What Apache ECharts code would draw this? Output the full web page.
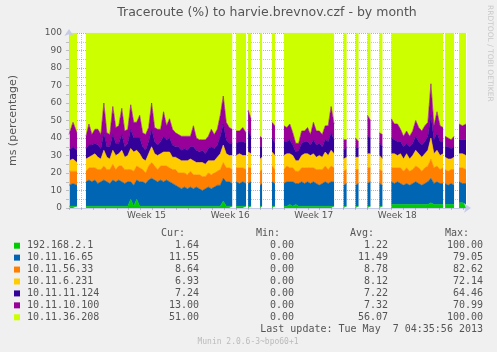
<!DOCTYPE html>
<html>
<head>
<meta charset="utf-8">
<title>Traceroute (%) to harvie.brevnov.czf - by month</title>
<script src="https://cdn.jsdelivr.net/npm/echarts@6/dist/echarts.min.js"></script>
<style>
html, body { margin: 0; padding: 0; background: #f0f0f0; }
#main { width: 497px; height: 352px; }
</style>
</head>
<body>
<div id="main"></div>
<script>
var names = ['192.168.2.1', '10.11.16.65', '10.11.56.33', '10.11.6.231', '10.11.11.124', '10.11.10.100', '10.11.36.208'];
var colors = ['#00CC00', '#0066B3', '#FF8000', '#FFCC00', '#330099', '#990099', '#CCFF00'];
var curVals = ['1.64', '11.55', '8.64', '6.93', '7.24', '13.00', '51.00'];
var minVals = ['0.00', '0.00', '0.00', '0.00', '0.00', '0.00', '0.00'];
var avgVals = ['1.22', '11.49', '8.78', '8.12', '7.22', '7.32', '56.07'];
var maxVals = ['100.00', '79.05', '82.62', '72.14', '64.46', '70.99', '100.00'];
var weekPos = [6.5, 13.5, 20.5, 27.5];     // days from left edge
var weekNames = ['Week 15', 'Week 16', 'Week 17', 'Week 18'];
var lastUpdate = 'Last update: Tue May  7 04:35:56 2013';

// stretches of time (days) where samples exist, gaps between them are empty
var spans = [[0, 0.67], [1.42, 13.67], [14.0, 14.83], [15.0, 15.25], [16.0, 16.17], [17.0, 17.25],
    [18.0, 22.2], [23.0, 23.25], [24.0, 24.25], [25.0, 25.25], [26.0, 26.25], [27.0, 31.33],
    [31.5, 32.25], [32.67, 33.25]];

// percent per host, one list per span
var ip2_1 = [
    [1, 1, 1],
    [1, 1, 1, 1, 1, 1, 1, 1, 1, 1, 1, 1, 1, 1, 1, 5, 1, 5, 1, 1, 1, 1, 1, 1, 1, 1, 1, 1, 1, 1,
        1, 1, 1, 1, 1, 1, 1, 1, 1, 1, 1, 1, 1, 1, 1, 1, 4, 1, 1, 1],
    [1, 1, 1, 1], [1, 1], [1, 1], [1, 1],
    [1, 1, 2, 1, 2, 1, 1, 1, 1, 1, 1, 1, 1, 1, 1, 1, 1, 1],
    [1, 1], [1, 1], [1, 1], [1, 1],
    [2, 2, 2, 2, 2, 2, 2, 2, 2, 2, 2, 2, 2, 3, 2, 2, 2, 2],
    [2, 2, 2, 2], [3, 3, 2]
];
var ip16_65 = [
    [12, 13, 12],
    [14, 15, 14, 15, 13, 14, 15, 14, 13, 15, 14, 15, 14, 13, 14, 10, 12, 11, 14, 14, 13, 15, 16, 15, 14, 15, 14, 15, 14, 13,
        12, 11, 10, 11, 10, 11, 10, 11, 10, 9, 10, 11, 10, 11, 12, 12, 13, 14, 14, 13],
    [14, 13, 14, 13], [13, 14], [12, 13], [14, 13],
    [13, 14, 13, 14, 12, 13, 14, 13, 14, 13, 14, 13, 12, 13, 14, 13, 14, 14],
    [12, 13], [12, 13], [13, 14], [13, 12],
    [13, 12, 13, 12, 11, 12, 11, 12, 13, 12, 11, 12, 13, 14, 12, 13, 12, 12],
    [12, 11, 12, 11], [12, 11, 12]
];
var ip56_33 = [
    [8, 7, 8],
    [6, 7, 8, 7, 8, 7, 8, 7, 8, 9, 7, 8, 9, 8, 7, 7, 8, 8, 8, 7, 6, 8, 9, 8, 7, 8, 9, 8, 8, 8,
        9, 8, 9, 8, 8, 9, 8, 7, 8, 8, 7, 8, 8, 8, 8, 9, 9, 8, 8, 8],
    [8, 9, 8, 8], [9, 8], [8, 8], [9, 8],
    [8, 9, 8, 8, 7, 7, 8, 9, 8, 9, 8, 8, 9, 8, 9, 8, 9, 8],
    [8, 8], [9, 8], [9, 8], [8, 8],
    [8, 9, 8, 9, 8, 9, 8, 8, 9, 9, 8, 9, 9, 11, 9, 9, 8, 9],
    [8, 8, 8, 9], [8, 9, 8]
];
var ip6_231 = [
    [6, 7, 5],
    [7, 6, 7, 8, 7, 6, 9, 7, 6, 8, 8, 7, 9, 7, 8, 12, 11, 9, 8, 6, 7, 7, 9, 7, 8, 7, 8, 8, 9, 7,
        7, 8, 7, 7, 8, 7, 8, 7, 7, 8, 7, 7, 8, 7, 8, 9, 10, 8, 7, 8],
    [7, 8, 7, 8], [9, 8], [7, 7], [8, 8],
    [8, 7, 8, 7, 6, 6, 7, 8, 8, 7, 8, 7, 8, 7, 8, 8, 9, 8],
    [7, 7], [7, 7], [8, 8], [8, 7],
    [8, 8, 7, 8, 7, 8, 7, 8, 9, 8, 8, 8, 9, 12, 8, 9, 8, 8],
    [7, 7, 6, 7], [8, 8, 8]
];
var ip11_124 = [
    [6, 7, 7],
    [6, 7, 6, 6, 7, 6, 10, 6, 7, 9, 7, 6, 9, 6, 7, 11, 8, 7, 9, 7, 6, 7, 10, 7, 6, 7, 9, 7, 8, 7,
        6, 7, 6, 7, 6, 7, 8, 7, 6, 7, 6, 7, 8, 7, 7, 10, 12, 8, 7, 7],
    [7, 7, 8, 7], [12, 10], [7, 6], [8, 7],
    [8, 7, 8, 6, 5, 6, 7, 7, 7, 6, 8, 7, 7, 6, 7, 8, 10, 8],
    [5, 6], [6, 5], [10, 9], [7, 7],
    [9, 8, 8, 7, 7, 6, 7, 7, 8, 7, 7, 7, 8, 13, 8, 10, 8, 7],
    [6, 7, 6, 6], [8, 8, 9]
];
var ip10_100 = [
    [9, 14, 10],
    [7, 12, 6, 8, 9, 8, 17, 8, 7, 16, 9, 10, 15, 9, 8, 14, 9, 9, 13, 8, 9, 8, 15, 8, 9, 7, 14, 8, 11, 9,
        8, 7, 8, 7, 8, 6, 12, 7, 7, 6, 8, 7, 10, 8, 9, 12, 16, 10, 9, 8],
    [7, 6, 8, 6], [12, 10], [6, 5], [9, 10],
    [9, 8, 9, 7, 5, 4, 7, 6, 8, 6, 10, 8, 7, 7, 8, 9, 15, 9],
    [6, 4], [5, 4], [12, 10], [6, 7],
    [11, 9, 10, 7, 6, 7, 6, 7, 9, 8, 8, 9, 8, 18, 8, 12, 9, 8],
    [6, 5, 5, 6], [9, 8, 9]
];
var ip36_208 = [
    [58, 51, 57],
    [59, 52, 58, 55, 55, 58, 40, 57, 58, 42, 54, 53, 43, 56, 55, 41, 51, 51, 47, 57, 58, 54, 40, 54, 55, 55, 45, 53, 49, 55,
        57, 58, 59, 59, 59, 59, 53, 60, 61, 61, 61, 59, 55, 58, 55, 47, 36, 51, 54, 55],
    [56, 56, 54, 57], [44, 49], [59, 60], [51, 53],
    [53, 54, 52, 57, 63, 63, 56, 56, 54, 58, 51, 56, 56, 58, 53, 53, 42, 52],
    [61, 61], [60, 62], [47, 50], [57, 58],
    [49, 52, 52, 55, 59, 56, 59, 56, 50, 54, 56, 53, 51, 29, 53, 45, 53, 54],
    [59, 60, 61, 59], [52, 53, 52]
];

var hosts = [ip2_1, ip16_65, ip56_33, ip6_231, ip11_124, ip10_100, ip36_208];

// rows are [percent, day] so the stack runs on the percent column;
// samples spread over their span, '-' breaks the area between spans
function buildData(segs) {
    var out = [];
    for (var s = 0; s < segs.length; s++) {
        var a = spans[s][0], b = spans[s][1];
        var vals = segs[s];
        var step = vals.length > 1 ? (b - a) / (vals.length - 1) : 0;
        for (var k = 0; k < vals.length; k++) {
            out.push([vals[k], a + step * k]);
        }
        if (s < segs.length - 1) out.push(['-', (b + spans[s + 1][0]) / 2]);
    }
    return out;
}

var gridGrey = 'rgba(128,128,128,0.45)';
var gridRed = 'rgba(210,40,40,0.45)';
var axisCol = '#c6cbe8';
var txtCol = '#555';

var series = hosts.map(function (segs, i) {
    return {
        name: names[i],
        type: 'line',
        stack: 'pct',
        data: buildData(segs),
        encode: { x: 1, y: 0 },
        showSymbol: false,
        symbol: 'none',
        connectNulls: false,
        silent: true,
        lineStyle: { width: 0.6, color: colors[i] },
        itemStyle: { color: colors[i] },
        areaStyle: { color: colors[i], opacity: 1 }
    };
});

// legend table underneath the plot
var items = [];
var mono = 'DejaVu Sans Mono';
var colRight = [199, 294, 388, 483];
var headRight = [185, 280, 374, 469];
var headers = ['Cur:', 'Min:', 'Avg:', 'Max:'];
headers.forEach(function (h, c) {
    items.push({ type: 'text', x: headRight[c], y: 233.5, silent: true,
        style: { text: h, fill: txtCol, fontSize: 10, fontFamily: mono, align: 'right', verticalAlign: 'middle' } });
});
names.forEach(function (n, i) {
    var y = 245.7 + i * 11.93;
    items.push({ type: 'rect', silent: true, shape: { x: 14, y: y - 3, width: 6, height: 6 }, style: { fill: colors[i] } });
    items.push({ type: 'text', x: 27, y: y, silent: true,
        style: { text: n, fill: txtCol, fontSize: 10, fontFamily: mono, align: 'left', verticalAlign: 'middle' } });
    [curVals, minVals, avgVals, maxVals].forEach(function (arr, c) {
        items.push({ type: 'text', x: colRight[c], y: y, silent: true,
            style: { text: arr[i], fill: txtCol, fontSize: 10, fontFamily: mono, align: 'right', verticalAlign: 'middle' } });
    });
});
items.push({ type: 'text', x: 483, y: 329.7, silent: true,
    style: { text: lastUpdate, fill: txtCol, fontSize: 10, fontFamily: mono, align: 'right', verticalAlign: 'middle' } });
items.push({ type: 'text', x: 248, y: 341.5, silent: true,
    style: { text: 'Munin 2.0.6-3~bpo60+1', fill: '#bbb', fontSize: 8, fontFamily: mono, align: 'center', verticalAlign: 'middle' } });
items.push({ type: 'text', x: 489.5, y: 5, rotation: -Math.PI / 2, silent: true,
    style: { text: 'RRDTOOL / TOBI OETIKER', fill: '#c8c8c8', fontSize: 7.5, fontFamily: 'DejaVu Sans', align: 'left', verticalAlign: 'middle' } });

var chart = echarts.init(document.getElementById('main'), null, { renderer: 'canvas' });
chart.setOption({
    animation: false,
    backgroundColor: '#f0f0f0',
    title: {
        text: 'Traceroute (%) to harvie.brevnov.czf - by month',
        left: 267, top: 6, padding: 0, textAlign: 'center',
        textStyle: { color: txtCol, fontSize: 12.5, fontWeight: 'normal', fontFamily: 'DejaVu Sans' }
    },
    grid: { left: 67, top: 33, width: 400, height: 175, show: true, backgroundColor: '#fff', borderWidth: 0 },
    xAxis: [{
        type: 'value', min: 0, max: 100 / 3, interval: 1, z: 3,
        axisLine: { show: true, onZero: false, lineStyle: { color: axisCol }, symbol: ['none', 'arrow'], symbolSize: [7, 7], symbolOffset: [0, 4] },
        axisTick: { show: true, length: 2, lineStyle: { color: gridGrey } },
        axisLabel: { show: false },
        splitLine: { show: true, showMaxLine: false,
            lineStyle: { color: [gridGrey, gridGrey, gridGrey, gridRed, gridGrey, gridGrey, gridGrey], type: [1, 1] } }
    }, {
        type: 'value', min: 0, max: 100 / 3, interval: 0.5, position: 'bottom', z: 3,
        axisLine: { show: false }, axisTick: { show: false }, splitLine: { show: false },
        axisLabel: {
            color: txtCol, fontSize: 9, fontFamily: 'DejaVu Sans', margin: 3,
            formatter: function (v) {
                for (var i = 0; i < weekPos.length; i++) {
                    if (Math.abs(v - weekPos[i]) < 0.01) return weekNames[i];
                }
                return '';
            }
        }
    }],
    yAxis: {
        type: 'value', min: 0, max: 100, interval: 5, z: 3,
        name: 'ms (percentage)', nameLocation: 'middle', nameGap: 50, nameRotate: 90,
        nameTextStyle: { color: txtCol, fontSize: 11, fontFamily: 'DejaVu Sans' },
        axisLine: { show: true, lineStyle: { color: axisCol }, symbol: ['none', 'arrow'], symbolSize: [7, 7], symbolOffset: [0, 4] },
        axisTick: { show: true, length: 3, lineStyle: { color: gridGrey } },
        axisLabel: {
            color: txtCol, fontSize: 9, fontFamily: 'DejaVu Sans', margin: 7,
            formatter: function (v) { return v % 10 === 0 ? String(v) : ''; }
        },
        splitLine: { show: true, lineStyle: { color: [gridRed, gridGrey], type: [1, 1] } }
    },
    graphic: { elements: items },
    series: series
});
</script>
</body>
</html>
